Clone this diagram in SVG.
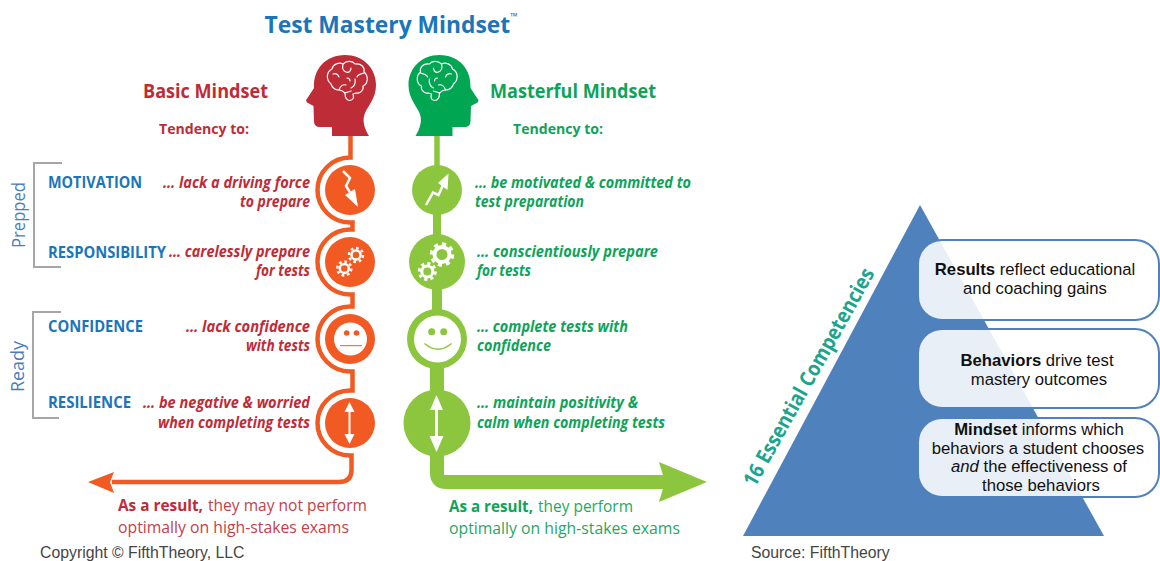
<svg xmlns="http://www.w3.org/2000/svg" xmlns:xlink="http://www.w3.org/1999/xlink" width="1160" height="561" viewBox="0 0 1160 561">
<style>
text{font-family:"Open Sans","Noto Sans",sans-serif}
.b{font-weight:700}
.blue{fill:#1a75bb;font-weight:700;font-size:15.500px}
.r{fill:#be2c37}
.g{fill:#0fa35a}
.rr{fill:#c4404a;font-size:16.500px}
.gg{fill:#1fa863;font-size:16.500px}
.ri{fill:#be2c37;font-weight:700;font-style:italic;font-size:15.200px;text-anchor:end}
.gi{fill:#0fa35a;font-weight:700;font-style:italic;font-size:15.200px}
.side{fill:#4a7ebb;font-size:19px}
.br{fill:none;stroke:#a6a6a6;stroke-width:2}
.ar{font-family:"Liberation Sans",Arial,sans-serif;font-size:16.700px;fill:#111;text-anchor:middle}
.foot{font-size:15.800px;fill:#444;font-family:"Liberation Sans",Arial,sans-serif}
.box{fill:#fff;fill-opacity:.87;stroke:#4f81bd;stroke-width:2}
.brain{fill:none;stroke:#fff;stroke-width:1.200;stroke-linejoin:round;stroke-linecap:round}
.ring{fill:none;stroke:#fff}
</style>
<defs>
<g id="brainShape">
<path class="brain" d="M331 84 C326 80 326 72 332 69 C333 64 339 62 343 64 C347 60 353 61 355 64 C361 63 365 67 364 72 C369 76 368 84 363 86 C364 90 360 94 356 93 L353 94 C354 97 354 100 350 100.500 C346 100.500 345 97 345 93 C343 91 341 90 339 90 C335 90 332 87 331 84 Z"/>
<path class="brain" d="M333 74 C336 73 338 74 339 77 M343 64 C342 68 343 71 346 72 C349 73 351 71 351 68 M339 90 C340 86 343 84 346 85 M364 73 C361 74 358 74 357 77 M355 79 C356 83 354 87 351 88 M345 93 C347 92 349 92 351 91 M347 78 C349 78 350 79 350 81"/>
</g>
<path id="headShape" d="M345 55 C363 55 376 68 376 85 C376 98 368 106 365 113 C362 120 364 128 369 136 L332 136 L332 127 L320 127 Q314 127 314 121 L313.500 106 L307 102.500 Q305 100 307.500 98 L314 88 C313 70 325 55 345 55 Z"/>
</defs>
<rect width="1160" height="561" fill="#fff"/>

<text id="title" class="b" x="264.500" y="33" font-size="24" fill="#1a75bb" textLength="253" lengthAdjust="spacingAndGlyphs">Test Mastery Mindset<tspan font-size="10" dy="-13">™</tspan></text>

<g id="connectors">
<path d="M350.500 136V157.500H350A32.500 32.500 0 0 0 350 222.500H352.500V229.500H350A32.500 32.500 0 0 0 350 294.500H352.500V306.500H350A32.500 32.500 0 0 0 350 371.500H352.500V390.500H350A32.500 32.500 0 0 0 350 455.500H351.500V470Q351.500 482 339 482H112" fill="none" stroke="#f15a22" stroke-width="4.500"/>
<polygon points="88,482 114,472 110,482 114,493" fill="#f15a22"/>
<path d="M437 136V170" stroke="#8cc63f" stroke-width="5.500" fill="none"/>
<path d="M437 210V240" stroke="#8cc63f" stroke-width="8" fill="none"/>
<path d="M437 285V315" stroke="#8cc63f" stroke-width="10" fill="none"/>
<path d="M437 365V395" stroke="#8cc63f" stroke-width="14" fill="none"/>
<path d="M437 450V473Q437 482 446 482H667" stroke="#8cc63f" stroke-width="14" fill="none"/>
<polygon points="707,482 659,462 665,482 659,502" fill="#8cc63f"/>
</g>

<g id="head-basic"><use xlink:href="#headShape" href="#headShape" fill="#be2c37"/><use xlink:href="#brainShape" href="#brainShape"/></g>
<g id="head-masterful" transform="matrix(-1 0 0 1 784.500 0)"><use xlink:href="#headShape" href="#headShape" fill="#00a651"/><use xlink:href="#brainShape" href="#brainShape"/></g>

<g id="basic-heading">
<text class="b r" x="143" y="98" font-size="20" textLength="125" lengthAdjust="spacingAndGlyphs">Basic Mindset</text>
<text class="b r" x="159" y="134" font-size="15" textLength="90" lengthAdjust="spacingAndGlyphs">Tendency to:</text>
</g>
<g id="masterful-heading">
<text class="b g" x="490" y="98" font-size="20" textLength="166" lengthAdjust="spacingAndGlyphs">Masterful Mindset</text>
<text class="b g" x="513" y="134" font-size="15" textLength="90" lengthAdjust="spacingAndGlyphs">Tendency to:</text>
</g>

<g id="bracket-prepped"><path class="br" d="M62 163H34V267H61"/><text class="side" transform="translate(25 248) rotate(-90)" textLength="66" lengthAdjust="spacingAndGlyphs">Prepped</text></g>
<g id="bracket-ready"><path class="br" d="M61 312H33V418H59"/><text class="side" transform="translate(24 392) rotate(-90)" textLength="51" lengthAdjust="spacingAndGlyphs">Ready</text></g>

<g id="row-motivation">
<text class="blue" x="48" y="187.500" textLength="94" lengthAdjust="spacingAndGlyphs">MOTIVATION</text>
<text class="ri" x="310" y="188" textLength="147" lengthAdjust="spacingAndGlyphs">… lack a driving force</text>
<text class="ri" x="310" y="207" textLength="70" lengthAdjust="spacingAndGlyphs">to prepare</text>
<circle cx="350" cy="190" r="25" fill="#f15a22"/>
<path d="M343 171L350 178L346 186L351 194" fill="none" stroke="#fff" stroke-width="2.500"/>
<polygon points="345,195 355,189 358,207" fill="#fff"/>
<circle cx="437" cy="190" r="25" fill="#8cc63f"/>
<path d="M426 205L433 192.500L438.500 195L444 183" fill="none" stroke="#fff" stroke-width="2.500"/>
<polygon points="448.500,173.500 438,183 447.500,190" fill="#fff"/>
<text class="gi" x="475" y="188" textLength="216" lengthAdjust="spacingAndGlyphs">… be motivated &amp; committed to</text>
<text class="gi" x="475" y="207" textLength="109" lengthAdjust="spacingAndGlyphs">test preparation</text>
</g>

<g id="row-responsibility">
<text class="blue" x="48" y="257.500" textLength="118" lengthAdjust="spacingAndGlyphs">RESPONSIBILITY</text>
<text class="ri" x="310" y="257" textLength="141" lengthAdjust="spacingAndGlyphs">… carelessly prepare</text>
<text class="ri" x="310" y="276" textLength="54" lengthAdjust="spacingAndGlyphs">for tests</text>
<circle cx="350" cy="262" r="25" fill="#f15a22"/>
<circle class="ring" cx="356" cy="255" r="4.500" stroke-width="2.500"/>
<circle class="ring" cx="356" cy="255" r="7" stroke-width="2.500" pathLength="16" stroke-dasharray="1 1"/>
<circle class="ring" cx="344.300" cy="268.500" r="4.500" stroke-width="2.500"/>
<circle class="ring" cx="344.300" cy="268.500" r="7" stroke-width="2.500" pathLength="16" stroke-dasharray="1 1"/>
<circle cx="437" cy="262" r="28" fill="#8cc63f"/>
<circle class="ring" cx="442" cy="254.500" r="7.500" stroke-width="4"/>
<circle class="ring" cx="442" cy="254.500" r="10.500" stroke-width="3.500" pathLength="16" stroke-dasharray="1 1"/>
<circle class="ring" cx="427.300" cy="271.500" r="5.500" stroke-width="3"/>
<circle class="ring" cx="427.300" cy="271.500" r="8" stroke-width="3" pathLength="16" stroke-dasharray="1 1"/>
<text class="gi" x="477" y="257" textLength="181" lengthAdjust="spacingAndGlyphs">… conscientiously prepare</text>
<text class="gi" x="477" y="276" textLength="54" lengthAdjust="spacingAndGlyphs">for tests</text>
</g>

<g id="row-confidence">
<text class="blue" x="48" y="332" textLength="95" lengthAdjust="spacingAndGlyphs">CONFIDENCE</text>
<text class="ri" x="310" y="332" textLength="124" lengthAdjust="spacingAndGlyphs">… lack confidence</text>
<text class="ri" x="310" y="351" textLength="64" lengthAdjust="spacingAndGlyphs">with tests</text>
<circle cx="350" cy="339" r="25" fill="#f15a22"/>
<circle cx="350.500" cy="339" r="16.500" fill="#fff"/>
<circle cx="346.700" cy="333" r="2.800" fill="#f15a22"/>
<circle cx="356.500" cy="333" r="2.800" fill="#f15a22"/>
<path d="M340 345.700H362" stroke="#f15a22" fill="none"/>
<circle cx="437" cy="339" r="30" fill="#8cc63f"/>
<circle cx="437.500" cy="339" r="23.500" fill="#fff"/>
<circle cx="431.700" cy="331.700" r="3.500" fill="#8cc63f"/>
<circle cx="443.700" cy="331.700" r="3.500" fill="#8cc63f"/>
<path d="M424.500 343.500Q438 355 451.500 343.500" stroke="#8cc63f" stroke-width="1.500" fill="none"/>
<text class="gi" x="477" y="332" textLength="151" lengthAdjust="spacingAndGlyphs">… complete tests with</text>
<text class="gi" x="477" y="351" textLength="74" lengthAdjust="spacingAndGlyphs">confidence</text>
</g>

<g id="row-resilience">
<text class="blue" x="48" y="408" textLength="83" lengthAdjust="spacingAndGlyphs">RESILIENCE</text>
<text class="ri" x="310" y="408" textLength="167" lengthAdjust="spacingAndGlyphs">… be negative &amp; worried</text>
<text class="ri" x="310" y="428" textLength="152" lengthAdjust="spacingAndGlyphs">when completing tests</text>
<circle cx="350" cy="423" r="25" fill="#f15a22"/>
<path d="M349.500 410V436" stroke="#fff" stroke-width="2"/>
<polygon points="349.500,402 354.500,412 344.500,412" fill="#fff"/>
<polygon points="349.500,444 354.500,434 344.500,434" fill="#fff"/>
<circle cx="437" cy="423" r="33.500" fill="#8cc63f"/>
<path d="M436.500 408V438" stroke="#fff" stroke-width="3"/>
<polygon points="436.500,395 443,410 430,410" fill="#fff"/>
<polygon points="436.500,452 443.500,436 429.500,436" fill="#fff"/>
<text class="gi" x="477" y="408" textLength="161" lengthAdjust="spacingAndGlyphs">… maintain positivity &amp;</text>
<text class="gi" x="477" y="428" textLength="188" lengthAdjust="spacingAndGlyphs">calm when completing tests</text>
</g>

<g id="result-basic">
<text class="b r" x="118" y="511" font-size="16.500" textLength="85" lengthAdjust="spacingAndGlyphs">As a result,</text>
<text class="rr" x="208" y="511" textLength="159" lengthAdjust="spacingAndGlyphs">they may not perform</text>
<text class="rr" x="118" y="533" textLength="231" lengthAdjust="spacingAndGlyphs">optimally on high-stakes exams</text>
</g>
<g id="result-masterful">
<text class="b g" x="449" y="512" font-size="16.500" textLength="84" lengthAdjust="spacingAndGlyphs">As a result,</text>
<text class="gg" x="538" y="512" textLength="95" lengthAdjust="spacingAndGlyphs">they perform</text>
<text class="gg" x="449" y="533.500" textLength="231" lengthAdjust="spacingAndGlyphs">optimally on high-stakes exams</text>
</g>

<text class="foot" x="40" y="558">Copyright © FifthTheory, LLC</text>

<polygon id="pyramid" points="920,205 1104,536 743,536" fill="#4f81bd"/>
<text id="competencies" class="b" transform="translate(755 488) rotate(-60.800)" font-size="21" fill="#1ba58e" textLength="246" lengthAdjust="spacingAndGlyphs">16 Essential Competencies</text>

<g id="box-results"><rect class="box" x="918" y="240" width="241" height="80" rx="24"/>
<text class="ar" x="1035" y="275"><tspan font-weight="700">Results</tspan> reflect educational</text>
<text class="ar" x="1035" y="294">and coaching gains</text></g>
<g id="box-behaviors"><rect class="box" x="918" y="329" width="241" height="79" rx="24"/>
<text class="ar" x="1037" y="366"><tspan font-weight="700">Behaviors</tspan> drive test</text>
<text class="ar" x="1039" y="385">mastery outcomes</text></g>
<g id="box-mindset"><rect class="box" x="918" y="418" width="241" height="79" rx="24"/>
<text class="ar" x="1039" y="435"><tspan font-weight="700">Mindset</tspan> informs which</text>
<text class="ar" x="1038" y="454">behaviors a student chooses</text>
<text class="ar" x="1039" y="472"><tspan font-style="italic">and</tspan> the effectiveness of</text>
<text class="ar" x="1041" y="491">those behaviors</text></g>
<text class="foot" x="751" y="558">Source: FifthTheory</text>
</svg>
